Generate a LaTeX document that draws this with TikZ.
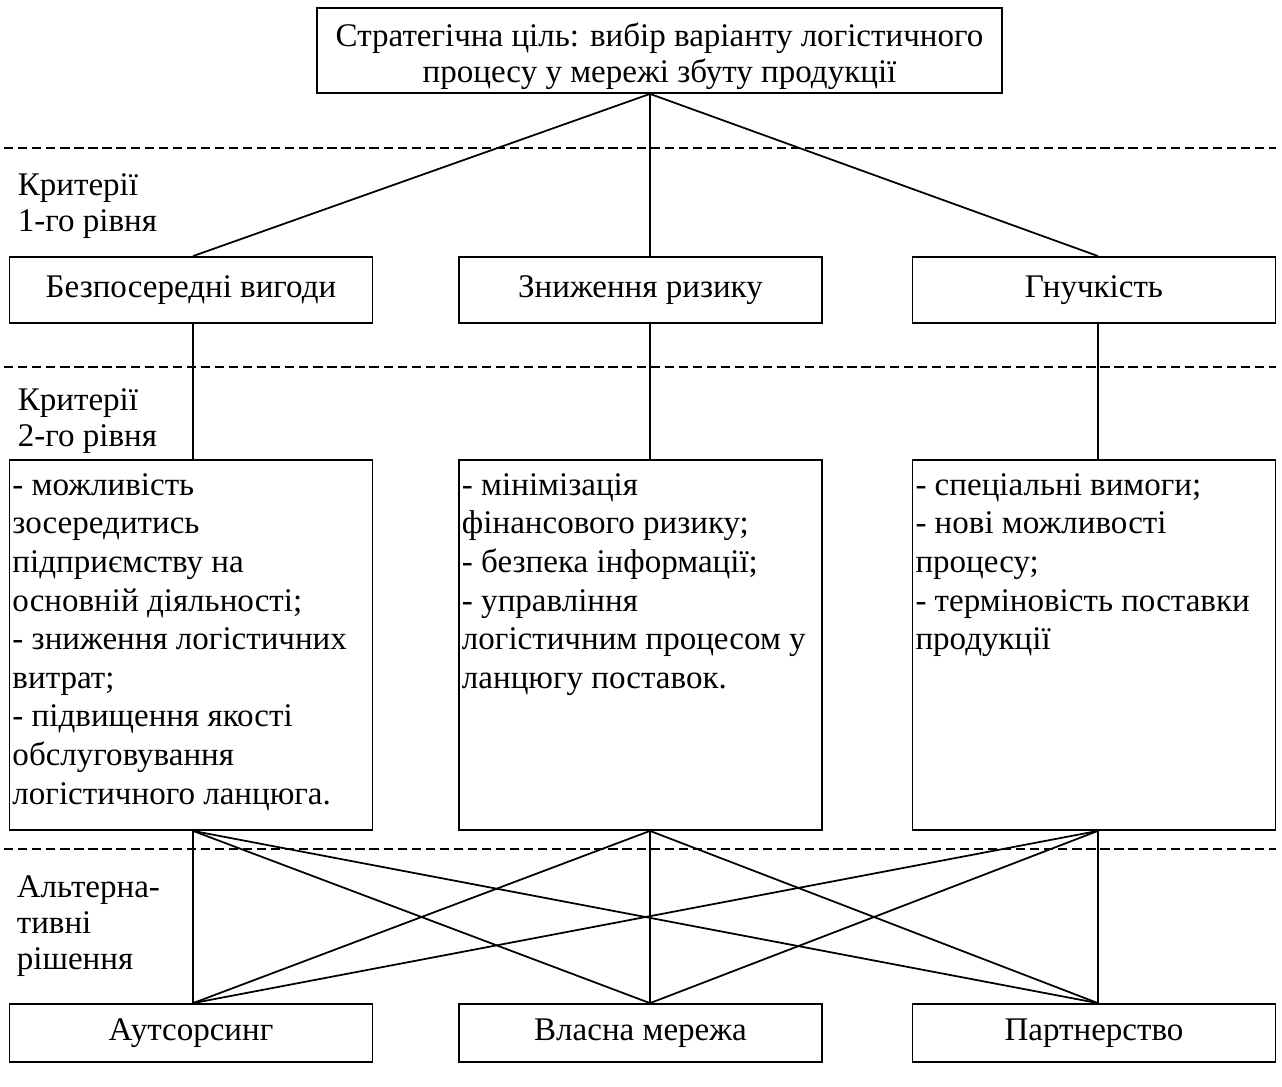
\documentclass[tikz,border=0pt]{standalone}
\usepackage{fontspec}
\setmainfont{Liberation Serif}

\begin{document}
\begin{tikzpicture}[x=0.02cm, y=-0.02cm, line width=1pt,
    every node/.style={font=\fontsize{18.8}{20.5}\selectfont},
    box/.style={draw, inner sep=0pt, align=center, minimum width=206.6pt},
    levelbox/.style={box, minimum height=37.6pt},
    altbox/.style={box, minimum height=33pt},
    listbox/.style={draw, inner xsep=1.7pt, inner ysep=4.55pt},
    separator/.style={line width=0.8pt, dash pattern=on 5.3pt off 2.7pt},
    levelname/.style={anchor=north west, inner sep=0pt, align=left}]
  \useasboundingbox (0,0) rectangle (1282,1086);

  % axes of the three columns
  \coordinate (ax1) at (193,0);
  \coordinate (ax2) at (650,0);
  \coordinate (ax3) at (1098,0);

  % level separators
  \draw [separator] (4,148) -- (1276,148);
  \draw [separator] (4,367) -- (1276,367);
  \draw [separator] (4,849) -- (1276,849);

  \node [box, minimum width=389.8pt, minimum height=48.4pt] (goal) at (659.5,50.5)
    {\rule{0pt}{20pt}Стратегічна ціль: вибір варіанту логістичного\\процесу у мережі збуту продукції};

  \node [levelname] (n1) at (17,173) {Критерії\\1-го рівня};
  \node [levelname] (n2) at (17,388) {Критерії\\2-го рівня};
  \node [levelname] (n3) at (16,875) {Альтерна-\\тивні\\рішення};

  \node [levelbox] (k1) at (191,290) {Безпосередні вигоди};
  \node [levelbox] (k2) at (640.5,290) {Зниження ризику};
  \node [levelbox] (k3) at (1094,290) {Гнучкість};

  \node [listbox] (s1) at (191,645) {\parbox[t][201.5pt][t]{203.2pt}{\fontsize{18.8}{22}\selectfont\raggedright
    \strut- можливість\\зосередитись\\підприємству на\\основній діяльності;\\- зниження логістичних\\витрат;\\- підвищення якості\\обслуговування\\логістичного ланцюга.}};
  \node [listbox] (s2) at (640.5,645) {\parbox[t][201.5pt][t]{203.2pt}{\fontsize{18.8}{22}\selectfont\raggedright
    \strut- мінімізація\\фінансового ризику;\\- безпека інформації;\\- управління\\логістичним процесом у\\ланцюгу поставок.}};
  \node [listbox] (s3) at (1094,645) {\parbox[t][201.5pt][t]{203.2pt}{\fontsize{18.8}{22}\selectfont\raggedright
    \strut- спеціальні вимоги;\\- нові можливості\\процесу;\\- терміновість поставки\\продукції}};

  \node [altbox] (a1) at (191,1033) {Аутсорсинг};
  \node [altbox] (a2) at (640.5,1033) {Власна мережа};
  \node [altbox] (a3) at (1094,1033) {Партнерство};

  \foreach \i in {1,2,3} {
    \draw (goal.south -| ax2) -- (k\i.north -| ax\i);
    \draw (k\i.south -| ax\i) -- (s\i.north -| ax\i);
    \foreach \j in {1,2,3}
      \draw (s\i.south -| ax\i) -- (a\j.north -| ax\j);
  }
\end{tikzpicture}
\end{document}
